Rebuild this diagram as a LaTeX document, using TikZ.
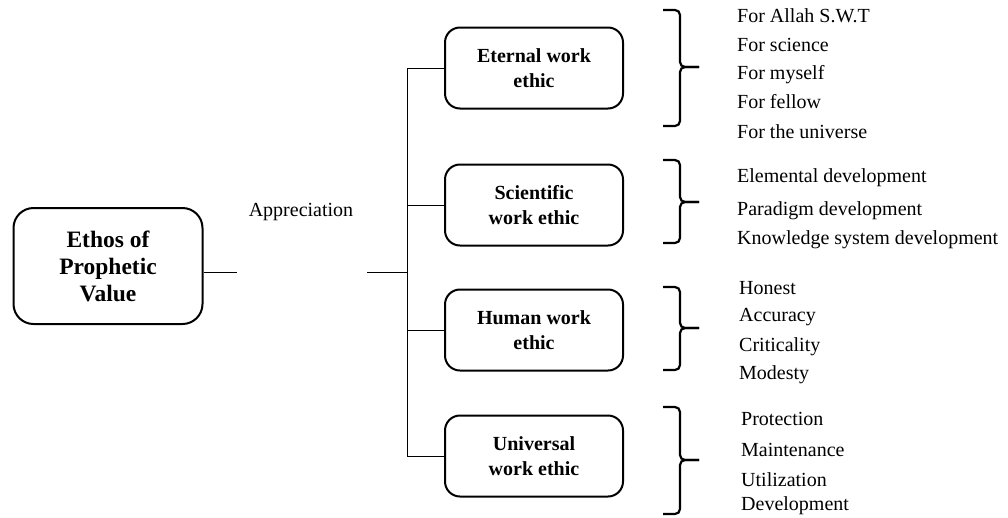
\documentclass[tikz,border=0pt]{standalone}
\usepackage{fontspec}
\setmainfont{Liberation Serif}

\newcommand{\ethicbrace}[3]{%
  \draw[bracket] (663,#1) -- (680,#1) -- (680,#2) -- (699,#2);
  \draw[bracket] (663,#3) -- (680,#3) -- (680,#2) -- (699,#2);}

\begin{document}
\begin{tikzpicture}[x=1pt,y=-1pt,
  mainbox/.style={draw,line width=2pt,rounded corners=20pt,minimum width=189pt,minimum height=116pt,align=center,font=\fontsize{23.5}{27}\selectfont\bfseries},
  ethicbox/.style={draw,line width=2pt,rounded corners=15pt,minimum width=178pt,minimum height=81pt,align=center,font=\fontsize{20}{25}\selectfont\bfseries},
  link/.style={line width=0.8pt},
  bracket/.style={line width=2.2pt,rounded corners=5pt},
  item/.style={anchor=west,inner sep=0pt,font=\fontsize{20}{24}\selectfont}]
\useasboundingbox (0,0) rectangle (1008,517);
\node[mainbox] (ethos) at (108,266) {Ethos of\\Prophetic\\Value};
\node[font=\fontsize{20}{24}\selectfont] (appr) at (301,212) {Appreciation};
\coordinate (gapL) at (237,272);
\coordinate (gapR) at (367,272);
\coordinate (bus) at (407,272);
\node[ethicbox] (eternal) at (534,68) {Eternal work\\ethic};
\node[ethicbox] (scientific) at (534,205) {Scientific\\work ethic};
\node[ethicbox] (human) at (534,330) {Human work\\ethic};
\node[ethicbox] (universal) at (534,456) {Universal\\work ethic};
\draw[link] (ethos.east |- gapL) -- (gapL);
\draw[link] (gapR) -- (bus);
\draw[link] (bus |- eternal.west) -- (bus |- universal.west);
\draw[link] (bus |- eternal.west) -- (eternal.west);
\draw[link] (bus |- scientific.west) -- (scientific.west);
\draw[link] (bus |- human.west) -- (human.west);
\draw[link] (bus |- universal.west) -- (universal.west);
\ethicbrace{10}{67}{126}
\ethicbrace{160}{202}{243}
\ethicbrace{287}{328}{370}
\ethicbrace{407}{460}{514}
\node[item] (allah) at (737,16) {For Allah S.W.T};
\node[item] (science) at (737,45) {For science};
\node[item] (myself) at (737,75) {For myself};
\node[item] (fellow) at (737,102) {For fellow};
\node[item] (universe) at (737,132) {For the universe};
\node[item] (elemental) at (737,178) {Elemental development};
\node[item] (paradigm) at (737,211) {Paradigm development};
\node[item] (knowledge) at (737,240) {Knowledge system development};
\node[item] (honest) at (739,288) {Honest};
\node[item] (accuracy) at (739,317) {Accuracy};
\node[item] (criticality) at (739,347) {Criticality};
\node[item] (modesty) at (739,375) {Modesty};
\node[item] (protection) at (741,419) {Protection};
\node[item] (maintenance) at (741,450) {Maintenance};
\node[item] (utilization) at (741,480) {Utilization};
\node[item] (development) at (741,506) {Development};
\end{tikzpicture}
\end{document}
